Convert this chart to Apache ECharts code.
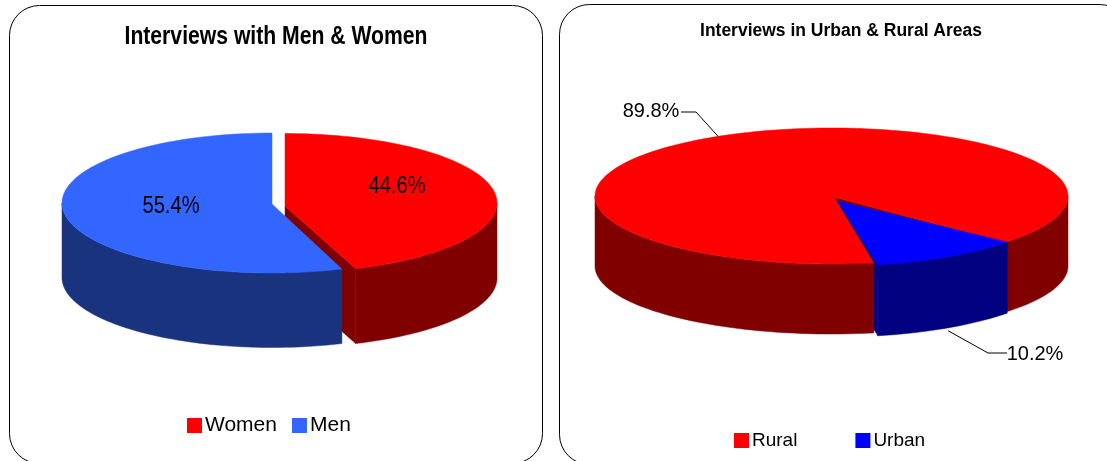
<!DOCTYPE html>
<html>
<head>
<meta charset="utf-8">
<style>html,body{margin:0;padding:0;background:#fff}#c{width:1107px;height:461px}</style>
<script src="https://cdn.jsdelivr.net/npm/echarts@6/dist/echarts.min.js"></script>
</head>
<body>
<div id="c"></div>
<script>
const genderNames = ['Women', 'Men'];
const genderValues = [44.6, 55.4];
const areaNames = ['Rural', 'Urban'];
const areaValues = [89.8, 10.2];
const titles = ['Interviews with Men & Women', 'Interviews in Urban & Rural Areas'];

const SANS = '"Liberation Sans",Arial,sans-serif';

// Layout of the two drawn pies (no data in here)
const pies = [
  { names: genderNames, values: genderValues, startAngle: 0,
    slices: [
      { cx: 285, cy: 203, rx: 212, ry: 69.5, ax: 285, ay: 206, depth: 75, top: '#FF0000', side: '#800000' },
      { cx: 272, cy: 203, rx: 210, ry: 70, ax: 272, ay: 204, depth: 74.5, top: '#3366FF', side: '#19337F' }
    ] },
  { names: areaNames, values: areaValues, startAngle: 169.7,
    slices: [
      { cx: 831.5, cy: 196, rx: 236.5, ry: 68, ax: 834, ay: 197, depth: 70, top: '#FF0000', side: '#800000' },
      { cx: 836, cy: 191, rx: 234, ry: 75, ax: 838, ay: 201, depth: 71, top: '#0000FF', side: '#000080' }
    ] }
];

const rad = d => d * Math.PI / 180;
const pt = (s, a, dy) => [s.cx + s.rx * Math.sin(rad(a)), s.cy - s.ry * Math.cos(rad(a)) + (dy || 0)];
function arc(s, a0, a1, dy) {
  const n = Math.max(2, Math.ceil(Math.abs(a1 - a0) / 2)), out = [];
  for (let i = 0; i <= n; i++) out.push(pt(s, a0 + (a1 - a0) * i / n, dy));
  return out;
}
const poly = (points, color) => ({
  type: 'polygon', shape: { points },
  style: { fill: color, stroke: color, lineWidth: 0.5 }
});
function angles(pie) {
  const total = pie.values.reduce((a, b) => a + b, 0);
  let a = pie.startAngle;
  return pie.values.map(v => { const s = a; a += v / total * 360; return [s, a]; });
}
// the front-facing part of the rim lies where the angle is 90..270 (mod 360)
function frontRanges(a0, a1) {
  const out = [];
  for (let k = 0; k < 3; k++) {
    const lo = Math.max(a0, 90 + 360 * k), hi = Math.min(a1, 270 + 360 * k);
    if (hi > lo) out.push([lo, hi]);
  }
  return out;
}
function cutFaces(s, a0, a1) {
  const faces = [];
  const add = a => {
    const e = pt(s, a);
    faces.push(poly([[s.ax, s.ay], e, [e[0], e[1] + s.depth], [s.ax, s.ay + s.depth]], s.side));
  };
  if (Math.sin(rad(a0)) < -1e-6) add(a0);
  if (Math.sin(rad(a1)) > 1e-6) add(a1);
  return faces;
}
function slicePainter(pie, i, part) {
  return function (params, api) {
    const v = api.value(0);
    const s = pie.slices[i];
    const [a0, a1] = angles(pie)[i];
    if (!(v > 0)) return null;
    if (part === 'cut') return { type: 'group', children: cutFaces(s, a0, a1) };
    const children = frontRanges(a0, a1).map(r =>
      poly(arc(s, r[0], r[1]).concat(arc(s, r[1], r[0], s.depth)), s.side));
    children.push(poly([[s.ax, s.ay]].concat(arc(s, a0, a1)), s.top));
    return { type: 'group', children };
  };
}

const series = [];
pies.forEach(pie => {
  pie.values.forEach((v, i) => {
    series.push({ type: 'custom', coordinateSystem: 'none', z: 1, silent: true,
      data: [[v]], renderItem: slicePainter(pie, i, 'cut') });
  });
  pie.values.forEach((v, i) => {
    series.push({ type: 'custom', coordinateSystem: 'none', z: 2 + i, silent: true, name: pie.names[i],
      itemStyle: { color: pie.slices[i].top },
      data: [[v]], renderItem: slicePainter(pie, i, 'body') });
  });
});

// Value labels
const label = (x, y, font, sx) => function (params, api) {
  return { type: 'text', x, y, scaleX: sx, style: { text: api.value(0).toFixed(1) + '%', font, fill: '#000',
    align: 'center', verticalAlign: 'middle' } };
};
const addLabel = (value, x, y, font, sx) => series.push({ type: 'custom', coordinateSystem: 'none', z: 10,
  silent: true, data: [[value]], renderItem: label(x, y, font, sx) });
addLabel(genderValues[0], 397, 186, '24px ' + SANS, 0.84);
addLabel(genderValues[1], 171, 206, '24px ' + SANS, 0.84);
addLabel(areaValues[0], 651, 111, '20px ' + SANS, 1);
addLabel(areaValues[1], 1035, 354, '20px ' + SANS, 1);

// Leader lines start at the rim point of each slice's middle angle
const leader = (pie, i, dy, bend, end) => function () {
  const [a0, a1] = angles(pie)[i];
  const p = pt(pie.slices[i], (a0 + a1) / 2, dy);
  return { type: 'polyline', shape: { points: [p, bend, end] },
    style: { fill: null, stroke: '#000', lineWidth: 1 } };
};
series.push({ type: 'custom', coordinateSystem: 'none', z: 10, silent: true, data: [[0]],
  renderItem: leader(pies[1], 0, 0, [696, 112], [681, 112]) });
series.push({ type: 'custom', coordinateSystem: 'none', z: 10, silent: true, data: [[0]],
  renderItem: leader(pies[1], 1, pies[1].slices[1].depth + 3, [988, 353], [1007, 353]) });

const option = {
  animation: false,
  backgroundColor: '#fff',
  legend: [
    { data: genderNames, left: 182, top: 410, icon: 'rect', itemWidth: 15, itemHeight: 15, itemGap: 15,
      selectedMode: false, textStyle: { fontFamily: SANS, fontSize: 21, color: '#000', padding: [0, 0, 0, -2] } },
    { data: areaNames, left: 729, top: 426, icon: 'rect', itemWidth: 15, itemHeight: 15, itemGap: 58,
      selectedMode: false, textStyle: { fontFamily: SANS, fontSize: 19, color: '#000', padding: [0, 0, 0, -2] } }
  ],
  graphic: [
    { type: 'rect', z: 0, shape: { x: 9.5, y: 5.5, width: 533, height: 458, r: 30 },
      style: { fill: '#fff', stroke: '#000', lineWidth: 1 } },
    { type: 'rect', z: 0, shape: { x: 559.5, y: 4.5, width: 570, height: 460, r: 30 },
      style: { fill: '#fff', stroke: '#000', lineWidth: 1 } },
    { type: 'text', z: 5, x: 276, y: 37, scaleX: 0.814,
      style: { text: titles[0], font: 'bold 26px ' + SANS, fill: '#000', align: 'center', verticalAlign: 'middle' } },
    { type: 'text', z: 5, x: 841, y: 31, scaleX: 0.972,
      style: { text: titles[1], font: 'bold 18px ' + SANS, fill: '#000', align: 'center', verticalAlign: 'middle' } }
  ],
  series
};
const chart = echarts.init(document.getElementById('c'), null, { renderer: 'canvas' });
chart.setOption(option);
</script>
</body>
</html>
